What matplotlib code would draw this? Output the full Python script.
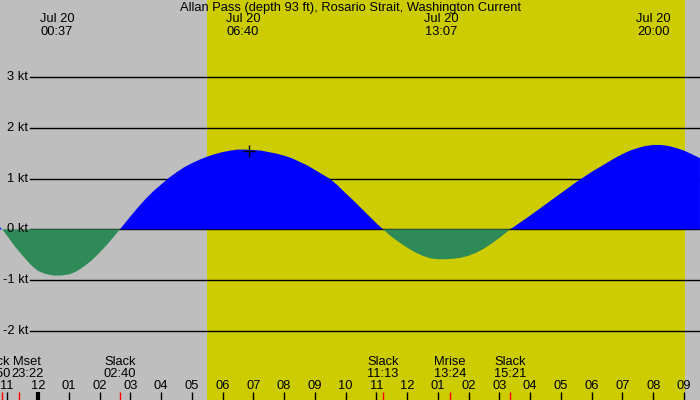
import matplotlib
matplotlib.use("Agg")
import matplotlib.pyplot as plt
import matplotlib.transforms as mtransforms
import numpy as np

# Current speed (kt), hours from midnight Jul 20
hours = [-1.235, -1.167, -1.0, -0.75, -0.5, -0.25, 0.0, 0.25, 0.5, 0.75, 1.0,
         1.25, 1.5, 1.75, 2.0, 2.25, 2.5, 2.667,
         3.0, 3.25, 3.5, 3.75, 4.0, 4.25, 4.5, 4.75, 5.0, 5.25, 5.5, 5.75,
         6.0, 6.25, 6.5, 6.75, 7.0, 7.25, 7.5, 7.75, 8.0, 8.25, 8.5, 8.75,
         9.0, 9.25, 9.5, 9.75, 10.0, 10.25, 10.5, 10.75, 11.0, 11.217,
         11.5, 11.75, 12.0, 12.25, 12.5, 12.75, 13.0, 13.25, 13.5, 13.75,
         14.0, 14.25, 14.5, 14.75, 15.0, 15.35,
         15.5, 16.0, 16.5, 17.0, 17.5, 18.0, 18.5, 18.75, 19.0, 19.25,
         19.5, 19.75, 20.0, 20.25, 20.5, 20.75, 21.0, 21.25, 21.52]
speed = [0.04, 0.0, -0.13, -0.34, -0.52, -0.69, -0.82, -0.88, -0.91, -0.91, -0.89,
         -0.83, -0.73, -0.61, -0.46, -0.30, -0.12, 0.0,
         0.25, 0.43, 0.60, 0.75, 0.88, 1.01, 1.12, 1.22, 1.30, 1.37, 1.43, 1.48,
         1.52, 1.55, 1.57, 1.57, 1.56, 1.55, 1.52, 1.49, 1.45, 1.40, 1.33, 1.26,
         1.17, 1.08, 0.99, 0.86, 0.71, 0.57, 0.42, 0.27, 0.12, 0.0,
         -0.15, -0.26, -0.36, -0.45, -0.52, -0.57, -0.59, -0.59, -0.58, -0.56,
         -0.52, -0.46, -0.38, -0.28, -0.17, 0.0,
         0.06, 0.27, 0.49, 0.71, 0.93, 1.13, 1.31, 1.40, 1.48, 1.55,
         1.60, 1.64, 1.66, 1.66, 1.64, 1.60, 1.55, 1.48, 1.40]

# max / min current labels along the top
peak_hours = [37 / 60, 6 + 40 / 60, 13 + 7 / 60, 20.0]
peak_times = ["00:37", "06:40", "13:07", "20:00"]

# slack / moon events along the bottom
event_hours = [-1 - 10 / 60, -1 + 22 / 60, 2 + 40 / 60, 11 + 13 / 60, 13 + 24 / 60, 15 + 21 / 60]
event_names = ["Slack", "Mset", "Slack", "Slack", "Mrise", "Slack"]
event_times = ["22:50", "23:22", "02:40", "11:13", "13:24", "15:21"]
event_label_shift = [-0.26, 0.28, 0, 0, 0, 0]  # hours, to keep crowded labels apart

sunrise = 5.5
sunset = 21.03
marker_hour, marker_speed = 6.86, 1.545

levels = [-2, -1, 0, 1, 2, 3]

PX_HOUR = 30.76
PX_KT = 50.8
W, H = 700, 400
X0, Y0 = 38, 229.3

fig = plt.figure(figsize=(7, 4), dpi=100)
ax = fig.add_axes([0, 0, 1, 1])
ax.set_xlim(-X0 / PX_HOUR, (W - X0) / PX_HOUR)
ax.set_ylim((Y0 - H) / PX_KT, Y0 / PX_KT)
ax.axis("off")
fig.patch.set_facecolor("#bebebe")
ax.add_patch(plt.Rectangle((0, 0), 1, 1, transform=ax.transAxes, color="#bebebe", zorder=0))
ax.axvspan(sunrise, sunset, color="#cccc00", zorder=1, lw=0)

font = dict(family=["Liberation Sans", "DejaVu Sans"], fontsize=9.3, color="black")

for lv in levels:
    ax.axhline(lv, xmin=30 / W, xmax=1, color="black", lw=1, zorder=2)
    ax.text(28 / W, lv, f"{lv} kt", transform=mtransforms.blended_transform_factory(ax.transAxes, ax.transData),
            ha="right", va="center", zorder=5, **font)

t = np.array(hours)
v = np.array(speed)
ax.fill_between(t, v, 0, where=v >= 0, interpolate=True, color="#0000ff", lw=0, zorder=3)
ax.fill_between(t, v, 0, where=v <= 0, interpolate=True, color="#2e8b57", lw=0, zorder=3)
ax.plot([marker_hour], [marker_speed], marker="+", color="black", ms=8, mew=1, zorder=4)

top = mtransforms.blended_transform_factory(ax.transData, ax.transAxes)
ax.text(((W / 2) - X0) / PX_HOUR, 1 - 7.5 / H, "Allan Pass (depth 93 ft), Rosario Strait, Washington Current",
        transform=top, ha="center", va="center", zorder=5, **font)
for h, tm in zip(peak_hours, peak_times):
    ax.text(h, 1 - 19.5 / H, "Jul 20", transform=top, ha="center", va="center", zorder=5, **font)
    ax.text(h, 1 - 32 / H, tm, transform=top, ha="center", va="center", zorder=5, **font)

# hour ticks along the bottom
for h in range(-1, 22):
    lab = "%02d" % ((h % 12) or 12)
    ax.text(h, 1 - 386 / H, lab, transform=top, ha="center", va="center", zorder=5, **font)
    ax.plot([h, h], [1 - 392 / H, 0], transform=top, color="black", lw=3 if h == 0 else 1,
            solid_capstyle="butt", zorder=5)

for h, name, tm, sh in zip(event_hours, event_names, event_times, event_label_shift):
    ax.plot([h, h], [1 - 392 / H, 0], transform=top, color="red", lw=1, solid_capstyle="butt", zorder=5)
    ax.text(h + sh, 1 - 362 / H, name, transform=top, ha="center", va="center", zorder=5, **font)
    ax.text(h + sh, 1 - 374 / H, tm, transform=top, ha="center", va="center", zorder=5, **font)

fig.savefig("out.png", dpi=100, facecolor=fig.get_facecolor())
